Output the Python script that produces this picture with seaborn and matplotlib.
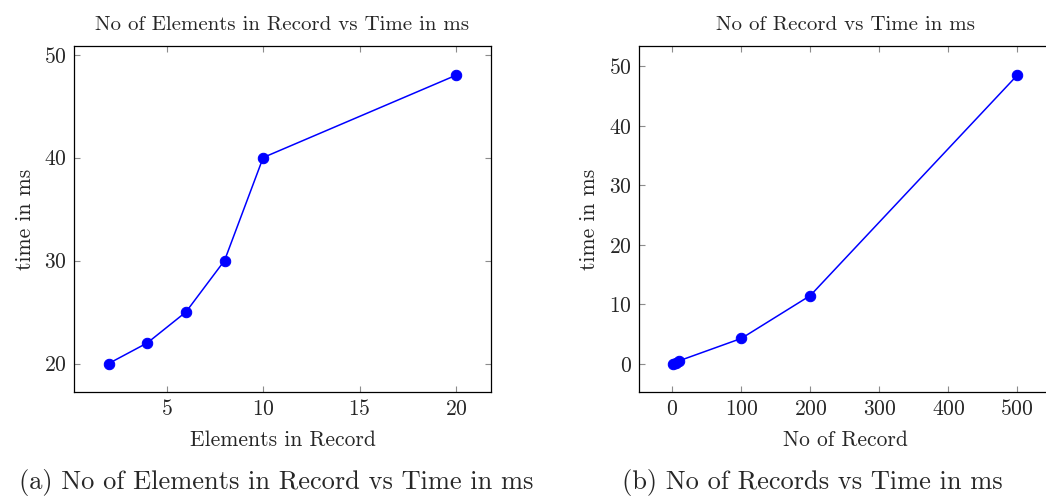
import matplotlib
matplotlib.use("Agg")
import matplotlib.pyplot as plt
import pandas as pd
import seaborn as sns

# left panel: elements in a record vs time
elements = [2, 4, 6, 8, 10, 20]
elements_time = [20, 22, 25, 30, 40, 48]

# right panel: number of records vs time
records = [1, 5, 10, 100, 200, 500]
records_time = [0.08, 0.25, 0.55, 4.3, 11.5, 48.5]

BLUE = "#0000ff"

sns.set_style("ticks")
plt.rcParams["font.family"] = ["cmr10", "DejaVu Serif"]
plt.rcParams["axes.formatter.use_mathtext"] = True
plt.rcParams["mathtext.fontset"] = "cm"


def style_axis(ax):
    ax.tick_params(direction="in", top=True, right=True, length=4.5,
                   width=0.8, color="#8c8c8c", labelsize=15.5, pad=5)
    for spine in ax.spines.values():
        spine.set_visible(True)
        spine.set_color("black")
        spine.set_linewidth(0.9)


def draw_panel(ax, x, y, title, xlabel):
    data = pd.DataFrame({"x": x, "y": y})
    sns.lineplot(data=data, x="x", y="y", ax=ax, color=BLUE, linewidth=1.1,
                 marker="o", markersize=7.5, markeredgecolor=BLUE)
    ax.set_title(title, fontsize=15, pad=12)
    ax.set_xlabel(xlabel, fontsize=15.5, labelpad=8)
    ax.set_ylabel("time in ms", fontsize=15.5, labelpad=7)
    style_axis(ax)


fig = plt.figure(figsize=(10.46, 4.96), dpi=100)
ax_left = fig.add_axes([0.0707, 0.209, 0.3987, 0.6976])
ax_right = fig.add_axes([0.6106, 0.209, 0.3948, 0.6976])

draw_panel(ax_left, elements, elements_time,
           "No of Elements in Record vs Time in ms", "Elements in Record")
ax_left.set_xlim(0.2, 21.8)
ax_left.set_ylim(17.2, 50.8)
ax_left.set_xticks([5, 10, 15, 20])
ax_left.set_yticks([20, 30, 40, 50])

draw_panel(ax_right, records, records_time,
           "No of Record vs Time in ms", "No of Record")
ax_right.set_xlim(-48.9, 549.9)
ax_right.set_ylim(-4.76, 53.36)
ax_right.set_xticks([0, 100, 200, 300, 400, 500])
ax_right.set_yticks([0, 10, 20, 30, 40, 50])

fig.text(0.264, 0.028, "(a) No of Elements in Record vs Time in ms",
         ha="center", va="center", fontsize=19)
fig.text(0.777, 0.028, "(b) No of Records vs Time in ms",
         ha="center", va="center", fontsize=19)

fig.savefig("out.png", dpi=100)
plt.close(fig)
